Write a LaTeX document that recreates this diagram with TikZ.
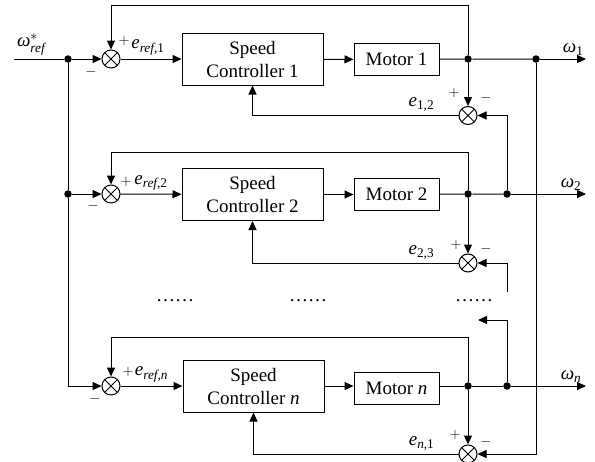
\documentclass[tikz,border=0pt]{standalone}
\usepackage{amsmath}
\usepackage{fontspec}
\setmainfont{Liberation Serif}
\usetikzlibrary{positioning,arrows.meta,calc}

\begin{document}
\begin{tikzpicture}[
    x=1pt, y=-1pt,
    font=\fontsize{19}{23}\selectfont,
    line width=1pt,
    block/.style={draw, minimum width=141pt, minimum height=52pt, align=center, inner sep=0pt},
    motor/.style={draw, minimum width=85pt, minimum height=32pt, inner sep=0pt},
    sum/.style={draw, circle, minimum size=18pt, inner sep=0pt,
        path picture={\draw (path picture bounding box.north west) -- (path picture bounding box.south east)
            (path picture bounding box.north east) -- (path picture bounding box.south west);}},
    dot/.style={circle, fill, minimum size=7.5pt, inner sep=0pt},
    edge/.style={-{Triangle[length=9pt,width=8pt]}},
    sign/.style={font=\fontsize{15}{15}\selectfont, inner sep=0pt}
]
\useasboundingbox (0,0) rectangle (595,461);

% reference input
\coordinate (in) at (14,59);
\node[dot] (p1) at (68,59) {};
\node[dot] (p2) at (68,194) {};

% row 1
\node[sum] (s1) at (111,59) {};
\node[block] (c1) at (252.5,59) {Speed\\Controller 1};
\node[motor] (m1) at (396.5,59.5) {Motor 1};
\node[dot] (j1) at (468,59) {};
\node[dot] (k1) at (536,59) {};
\node[sum] (d1) at (468,115.5) {};
\coordinate (o1) at (586,59);
\coordinate (t1) at (468,5);

% row 2
\node[sum] (s2) at (111,194) {};
\node[block] (c2) at (252.5,194.5) {Speed\\Controller 2};
\node[motor] (m2) at (396.5,194.5) {Motor 2};
\node[dot] (j2) at (468,194) {};
\node[dot] (k2) at (507,194) {};
\node[sum] (d2) at (468,263) {};
\coordinate (o2) at (586,194);
\coordinate (t2) at (468,152);
\coordinate (b2) at (507,292);

% row n
\node[sum] (s3) at (111,386) {};
\node[block] (c3) at (253.5,386) {Speed\\Controller \textit{n}};
\node[motor] (m3) at (396.5,388) {Motor \textit{n}};
\node[dot] (j3) at (468,386) {};
\node[dot] (k3) at (507,386) {};
\node[sum] (d3) at (468,454) {};
\coordinate (o3) at (586,386);
\coordinate (t3) at (468,337);
\coordinate (a3) at (478,320);

% omitted rows
\node (g1) at (175,301) {……};
\node (g2) at (308,301) {……};
\node (g3) at (474,301) {……};

% input distribution
\draw (in) -- node[above, pos=0.36]{$\textit{ω}^{*}_{\text{\textit{ref}}}$} (p1);
\draw[edge] (p1) -- (s1);
\draw (p1) -- (p2);
\draw[edge] (p2) -- (s2);
\draw[edge] (p2) |- (s3);

% forward paths
\draw[edge] (s1) -- node[above, pos=0.45]{$\textit{e}_{\text{\textit{ref},1}}$} (c1);
\draw[edge] (c1) -- (m1);
\draw (m1) -- (j1) -- (k1);
\draw[edge] (k1) -- node[above, pos=0.72]{$\textit{ω}_{\text{1}}$} (o1);

\draw[edge] (s2) -- node[above, pos=0.5]{$\textit{e}_{\text{\textit{ref},2}}$} (c2);
\draw[edge] (c2) -- (m2);
\draw (m2) -- (j2) -- (k2);
\draw[edge] (k2) -- node[above, pos=0.8]{$\textit{ω}_{\text{2}}$} (o2);

\draw[edge] (s3) -- node[above, pos=0.5]{$\textit{e}_{\text{\textit{ref},\textit{n}}}$} (c3);
\draw[edge] (c3) -- (m3.west |- c3);
\draw (m3.east |- j3) -- (j3) -- (k3);
\draw[edge] (k3) -- node[above, pos=0.8]{$\textit{ω}_{\text{\textit{n}}}$} (o3);

% speed feedback
\draw[edge] (j1) -- (t1) -| (s1);
\draw[edge] (j2) -- (t2) -| (s2);
\draw[edge] (j3) -- (t3) -| (s3);

% synchronisation errors
\draw[edge] (j1) -- (d1);
\draw[edge] (j2) -- (d2);
\draw[edge] (j3) -- (d3);
\draw[edge] (k2) |- (d1);
\draw[edge] (b2) |- (d2);
\draw[edge] (k1) |- (d3);
\draw[edge] (k3) |- (a3);
\draw[edge] (d1) -| node[above, pos=0.09]{$\textit{e}_{\text{1,2}}$} (c1);
\draw[edge] (d2) -| node[above, pos=0.09]{$\textit{e}_{\text{2,3}}$} (c2);
\draw[edge] (d3) -| node[above, pos=0.09]{$\textit{e}_{\text{\textit{n},1}}$} (c3);

% signs
\node[sign] (u1) at (124,41) {$+$};
\node[sign] (v1) at (91,72) {$-$};
\node[sign] (u2) at (126,182) {$+$};
\node[sign] (v2) at (93,206) {$-$};
\node[sign] (u3) at (128,372) {$+$};
\node[sign] (v3) at (95,399) {$-$};
\node[sign] (x1) at (454,93) {$+$};
\node[sign] (y1) at (486,98) {$-$};
\node[sign] (x2) at (456,245) {$+$};
\node[sign] (y2) at (486,249) {$-$};
\node[sign] (x3) at (455,435) {$+$};
\node[sign] (y3) at (486,442) {$-$};
\end{tikzpicture}
\end{document}
